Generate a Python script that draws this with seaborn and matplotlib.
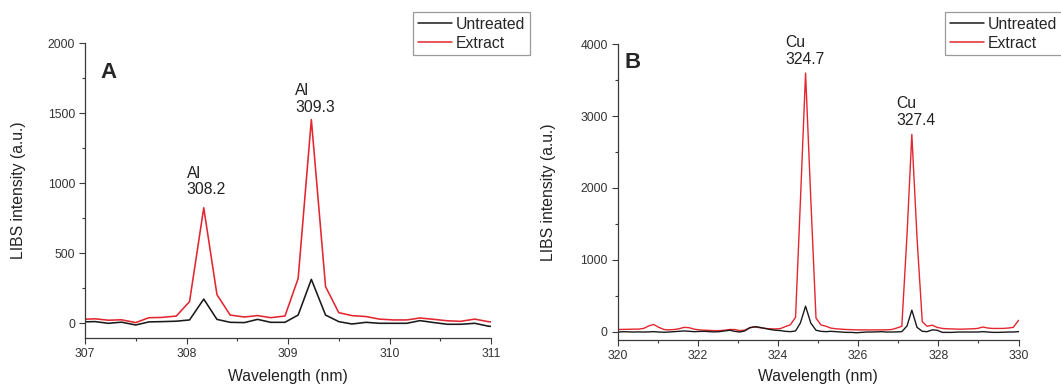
import numpy as np
import pandas as pd
import matplotlib
matplotlib.use("Agg")
import matplotlib.pyplot as plt
from matplotlib.ticker import MultipleLocator
import seaborn as sns

# ---------------- data: panel A (Al lines) ----------------
wl_a = [306.96, 307.10, 307.23, 307.36, 307.50, 307.63, 307.76, 307.90, 308.03, 308.17,
        308.30, 308.43, 308.57, 308.70, 308.83, 308.97, 309.10, 309.23, 309.37, 309.50,
        309.63, 309.77, 309.90, 310.04, 310.17, 310.30, 310.44, 310.57, 310.70, 310.84,
        310.97, 311.10]
extract_a = [28, 32, 22, 25, 5, 40, 42, 52, 155, 825,
             205, 59, 45, 55, 40, 52, 320, 1455, 262, 76,
             55, 48, 30, 24, 24, 38, 28, 18, 14, 30,
             12, 5]
untreated_a = [10, 12, 0, 8, -12, 10, 12, 15, 24, 173,
               28, 7, 5, 28, 7, 7, 59, 314, 59, 12,
               -5, 7, 0, 0, 0, 19, 5, -7, -7, 0,
               -20, -30]

# ---------------- data: panel B (Cu lines) ----------------
wl_b = [319.89, 320.02, 320.15, 320.27, 320.40, 320.52, 320.65, 320.78, 320.90, 321.03,
        321.16, 321.28, 321.41, 321.53, 321.66, 321.79, 321.91, 322.04, 322.17, 322.29,
        322.42, 322.54, 322.67, 322.80, 322.92, 323.05, 323.17, 323.30, 323.43, 323.55,
        323.68, 323.81, 323.93, 324.06, 324.18, 324.31, 324.44, 324.56, 324.69, 324.82,
        324.95, 325.07, 325.20, 325.32, 325.45, 325.58, 325.70, 325.83, 325.96, 326.08,
        326.21, 326.33, 326.46, 326.59, 326.71, 326.84, 326.96, 327.09, 327.22, 327.34,
        327.47, 327.60, 327.72, 327.85, 327.97, 328.10, 328.23, 328.35, 328.48, 328.61,
        328.73, 328.86, 328.98, 329.11, 329.24, 329.36, 329.49, 329.61, 329.74, 329.87,
        329.99, 330.12]
extract_b = [30, 30, 32, 33, 35, 35, 45, 80, 100, 60,
             30, 25, 30, 40, 60, 55, 35, 25, 20, 18,
             14, 15, 20, 30, 30, 15, 20, 55, 65, 55,
             45, 40, 38, 42, 70, 95, 200, 1800, 3600, 1850,
             190, 95, 75, 50, 40, 35, 30, 28, 25, 25,
             25, 24, 25, 25, 26, 30, 50, 75, 1350, 2745,
             1300, 140, 75, 90, 60, 45, 40, 38, 35, 35,
             38, 40, 45, 65, 50, 45, 45, 45, 50, 60,
             150, 200]
untreated_b = [0, -5, 0, -3, -5, -3, -5, -3, 0, -5,
               -8, -5, 0, 5, 10, 5, 0, 3, 5, 0,
               -3, 0, 10, 20, 5, -5, 10, 55, 70, 60,
               45, 30, 20, 15, 5, 0, 10, 120, 355, 120,
               20, 5, 0, 5, 0, -5, -10, -10, -15, -10,
               -5, -5, -3, 0, -5, -5, -3, 0, 80, 300,
               60, 5, 0, 25, 20, -10, -10, -10, -5, -5,
               -5, -5, -5, 0, -5, -10, -10, -8, -5, -5,
               0, 0]

series_names = ["Untreated", "Extract"]
colors = {"Untreated": "#1a1a1a", "Extract": "#e3262f"}

sns.set_style("ticks")
plt.rcParams["font.family"] = ["Liberation Sans", "DejaVu Sans"]

W, H = 1061, 387
fig = plt.figure(figsize=(W / 100, H / 100), dpi=100)

def px_axes(left, right, top, bottom):
    return fig.add_axes([left / W, 1 - bottom / H, (right - left) / W, (bottom - top) / H])

axA = px_axes(85, 491, 43.3, 338)
axB = px_axes(617.5, 1018.5, 44.3, 340)

def draw(ax, wl, ext, unt, lw):
    df_e = pd.DataFrame({"Wavelength": wl, "Intensity": ext, "Series": "Extract"})
    df_u = pd.DataFrame({"Wavelength": wl, "Intensity": unt, "Series": "Untreated"})
    sns.lineplot(data=df_e, x="Wavelength", y="Intensity", color=colors["Extract"],
                 lw=lw, ax=ax, label="Extract", sort=False)
    sns.lineplot(data=df_u, x="Wavelength", y="Intensity", color=colors["Untreated"],
                 lw=lw, ax=ax, label="Untreated", sort=False)

draw(axA, wl_a, extract_a, untreated_a, 1.15)
draw(axB, wl_b, extract_b, untreated_b, 1.0)

axA.set_xlim(307, 311)
axA.set_ylim(-105, 2000)
axA.xaxis.set_major_locator(MultipleLocator(1))
axA.xaxis.set_minor_locator(MultipleLocator(0.5))
axA.yaxis.set_major_locator(MultipleLocator(500))
axA.yaxis.set_minor_locator(MultipleLocator(250))

axB.set_xlim(320, 330)
axB.set_ylim(-116, 4000)
axB.xaxis.set_major_locator(MultipleLocator(2))
axB.xaxis.set_minor_locator(MultipleLocator(1))
axB.yaxis.set_major_locator(MultipleLocator(1000))
axB.yaxis.set_minor_locator(MultipleLocator(500))

spine_col = "#3a3a3a"
for ax in (axA, axB):
    sns.despine(ax=ax)
    for s in ("left", "bottom"):
        ax.spines[s].set_color(spine_col)
        ax.spines[s].set_linewidth(0.9)
    ax.tick_params(which="major", direction="out", length=4, width=0.8,
                   color=spine_col, labelsize=8.7, labelcolor="#333333", pad=3)
    ax.tick_params(which="minor", direction="out", length=2.5, width=0.8, color=spine_col)
    ax.set_xlabel("Wavelength (nm)", fontsize=11.3, color="#222222")
    ax.set_ylabel("LIBS intensity (a.u.)", fontsize=11.3, color="#222222")
    ax.patch.set_alpha(0)

axA.xaxis.set_label_coords(0.5, -(369 - 338) / (338 - 43.3))
axB.xaxis.set_label_coords(0.5, -(369 - 340) / (340 - 44.3))
axA.yaxis.set_label_coords((26 - 85) / 406, 0.5)
axB.yaxis.set_label_coords((556 - 617.5) / 401, 0.5)

# panel letters
axA.text(307.15, 1752, "A", fontsize=16, fontweight="bold", ha="left", va="baseline")
axB.text(320.18, 3668, "B", fontsize=16, fontweight="bold", ha="left", va="baseline")

# peak annotations
ann_fs = 11.3
axA.text(308.0, 900, "Al\n308.2", fontsize=ann_fs, ha="left", va="bottom", color="#222222", linespacing=1.15)
axA.text(309.07, 1490, "Al\n309.3", fontsize=ann_fs, ha="left", va="bottom", color="#222222", linespacing=1.15)
axB.text(324.18, 3680, "Cu\n324.7", fontsize=ann_fs, ha="left", va="bottom", color="#222222", linespacing=1.15, clip_on=False)
axB.text(326.95, 2840, "Cu\n327.4", fontsize=ann_fs, ha="left", va="bottom", color="#222222", linespacing=1.15)

# legends (Untreated first)
def legend(ax, x_px, y_px):
    handles, labels = ax.get_legend_handles_labels()
    order = [labels.index(n) for n in series_names]
    leg = ax.legend([handles[i] for i in order], [labels[i] for i in order],
                    loc="upper left", bbox_to_anchor=(x_px / W, 1 - y_px / H),
                    bbox_transform=fig.transFigure, borderaxespad=0,
                    fontsize=11.3, frameon=True, fancybox=False, framealpha=1,
                    edgecolor="#9a9a9a", handlelength=2.2, handletextpad=0.25,
                    labelspacing=0.25, borderpad=0.3)
    leg.get_frame().set_linewidth(0.9)
    for line in leg.get_lines():
        line.set_linewidth(1.1)

legend(axA, 413, 12)
legend(axB, 945, 12)

fig.savefig("out.png", dpi=100)
